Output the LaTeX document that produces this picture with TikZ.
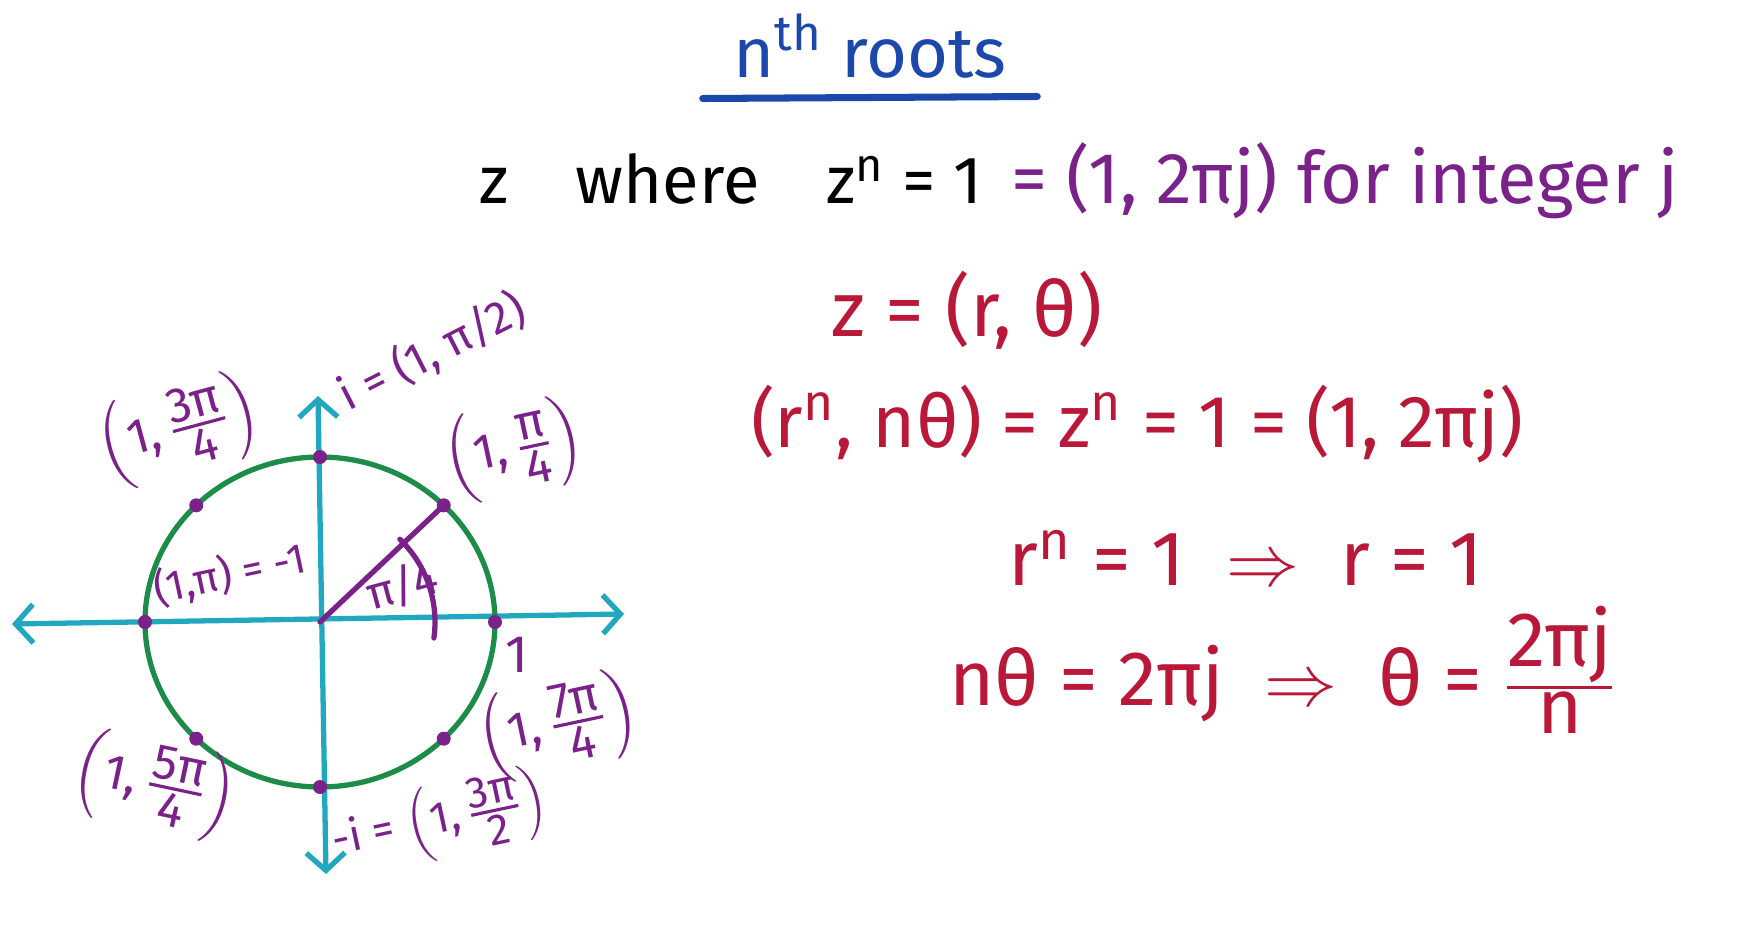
\documentclass[tikz,border=0pt]{standalone}
\usepackage{amsmath}
\usepackage{fontspec}
\setmainfont{Fira Sans}
\usetikzlibrary{positioning,arrows.meta}
\definecolor{penblue}{RGB}{28,72,172}
\definecolor{penpurple}{RGB}{122,34,138}
\definecolor{penred}{RGB}{186,24,56}
\definecolor{pengreen}{RGB}{28,140,72}
\definecolor{pencyan}{RGB}{34,168,190}
\newcommand{\fr}[2]{\genfrac{}{}{0.9pt}{}{\mbox{#1}}{\mbox{#2}}}
\begin{document}
\begin{tikzpicture}[x=0.01cm, y=-0.01cm,
    pen/.style={line width=1.5pt, line cap=round},
    axis/.style={pen, draw=pencyan,
        {Straight Barb[length=5pt,width=11pt]}-{Straight Barb[length=5pt,width=11pt]}},
    rootlabel/.style={text=penpurple, inner sep=1pt,
        font=\fontsize{12}{14}\selectfont},
    fraclabel/.style={rootlabel, font=\fontsize{14}{16}\selectfont},
    redline/.style={text=penred, inner sep=1pt,
        font=\fontsize{22}{26}\selectfont}
]
\useasboundingbox (0,0) rectangle (1750,933);

\node[text=penblue, font=\fontsize{20}{24}\selectfont] (title) at (870,46)
    {n\textsuperscript{th} roots};
\draw[pen, draw=penblue, line width=2pt]
    ([xshift=-0.18cm,yshift=-0.08cm]title.south west) -- ([xshift=0.18cm,yshift=-0.06cm]title.south east);

\node[font=\fontsize{19}{23}\selectfont, inner sep=1pt] (where) at (731,179)
    {z\quad where\quad z\textsuperscript{n} = 1};
\node[text=penpurple, font=\fontsize{20.5}{24}\selectfont, inner sep=1pt,
    base right=6pt of where] (cond) {= (1, 2πj) for integer j};

\node[redline] (polar) at (967,310) {z = (r, θ)};
\node[redline, font=\fontsize{21}{25}\selectfont] (power) at (1137,424)
    {(r\textsuperscript{n}, nθ) = z\textsuperscript{n} = 1 = (1, 2πj)};
\node[redline] (radius) at (1246,558) {r\textsuperscript{n} = 1 \ $\Rightarrow$ \ r = 1};
\node[redline] (angle) at (1283,670) {nθ = 2πj \ $\Rightarrow$ \ θ = $\fr{2πj}{n}$};

\coordinate (O) at (320,622);
\coordinate (west) at (12,624);
\coordinate (east) at (624,614);
\coordinate (north) at (318,396);
\coordinate (south) at (326,874);
\draw[axis] (west) -- (east);
\draw[axis] (south) -- (north);
\draw[pen, draw=pengreen] (O) ellipse [x radius=175, y radius=165];

\foreach \a in {0,45,...,315}{
    \coordinate (root\a) at ({320+175*cos(\a)},{622-165*sin(\a)});
    \fill[penpurple] (root\a) circle [radius=7];
}
\draw[pen, draw=penpurple] (O) -- (root45);
\draw[pen, draw=penpurple] (O) ++(-46:115) arc [start angle=-46, end angle=8, radius=115];

\node[rootlabel, rotate=15, font=\fontsize{13}{15}\selectfont] (quarter) at (402,586) {π/4};
\node[rootlabel, font=\fontsize{15}{17}\selectfont] (one) at (517,655) {1};
\node[rootlabel, rotate=12] (minusone) at (230,574) {(1,π) = -1};
\node[rootlabel, rotate=27, font=\fontsize{13}{15}\selectfont] (plusi) at (432,352) {i = (1, π/2)};
\node[fraclabel, rotate=12] (r45) at (514,450) {$\left(\mbox{1,}\,\fr{π}{4}\right)$};
\node[fraclabel, rotate=15] (r135) at (179,430) {$\left(\mbox{1,}\,\fr{3π}{4}\right)$};
\node[fraclabel, rotate=-12] (r225) at (155,785) {$\left(\mbox{1,}\,\fr{5π}{4}\right)$};
\node[fraclabel, rotate=12] (r315) at (558,726) {$\left(\mbox{1,}\,\fr{7π}{4}\right)$};
\node[rootlabel, rotate=12, font=\fontsize{12.5}{15}\selectfont] (minusi) at (440,822)
    {-i = $\left(\mbox{1,}\,\fr{3π}{2}\right)$};
\end{tikzpicture}
\end{document}
